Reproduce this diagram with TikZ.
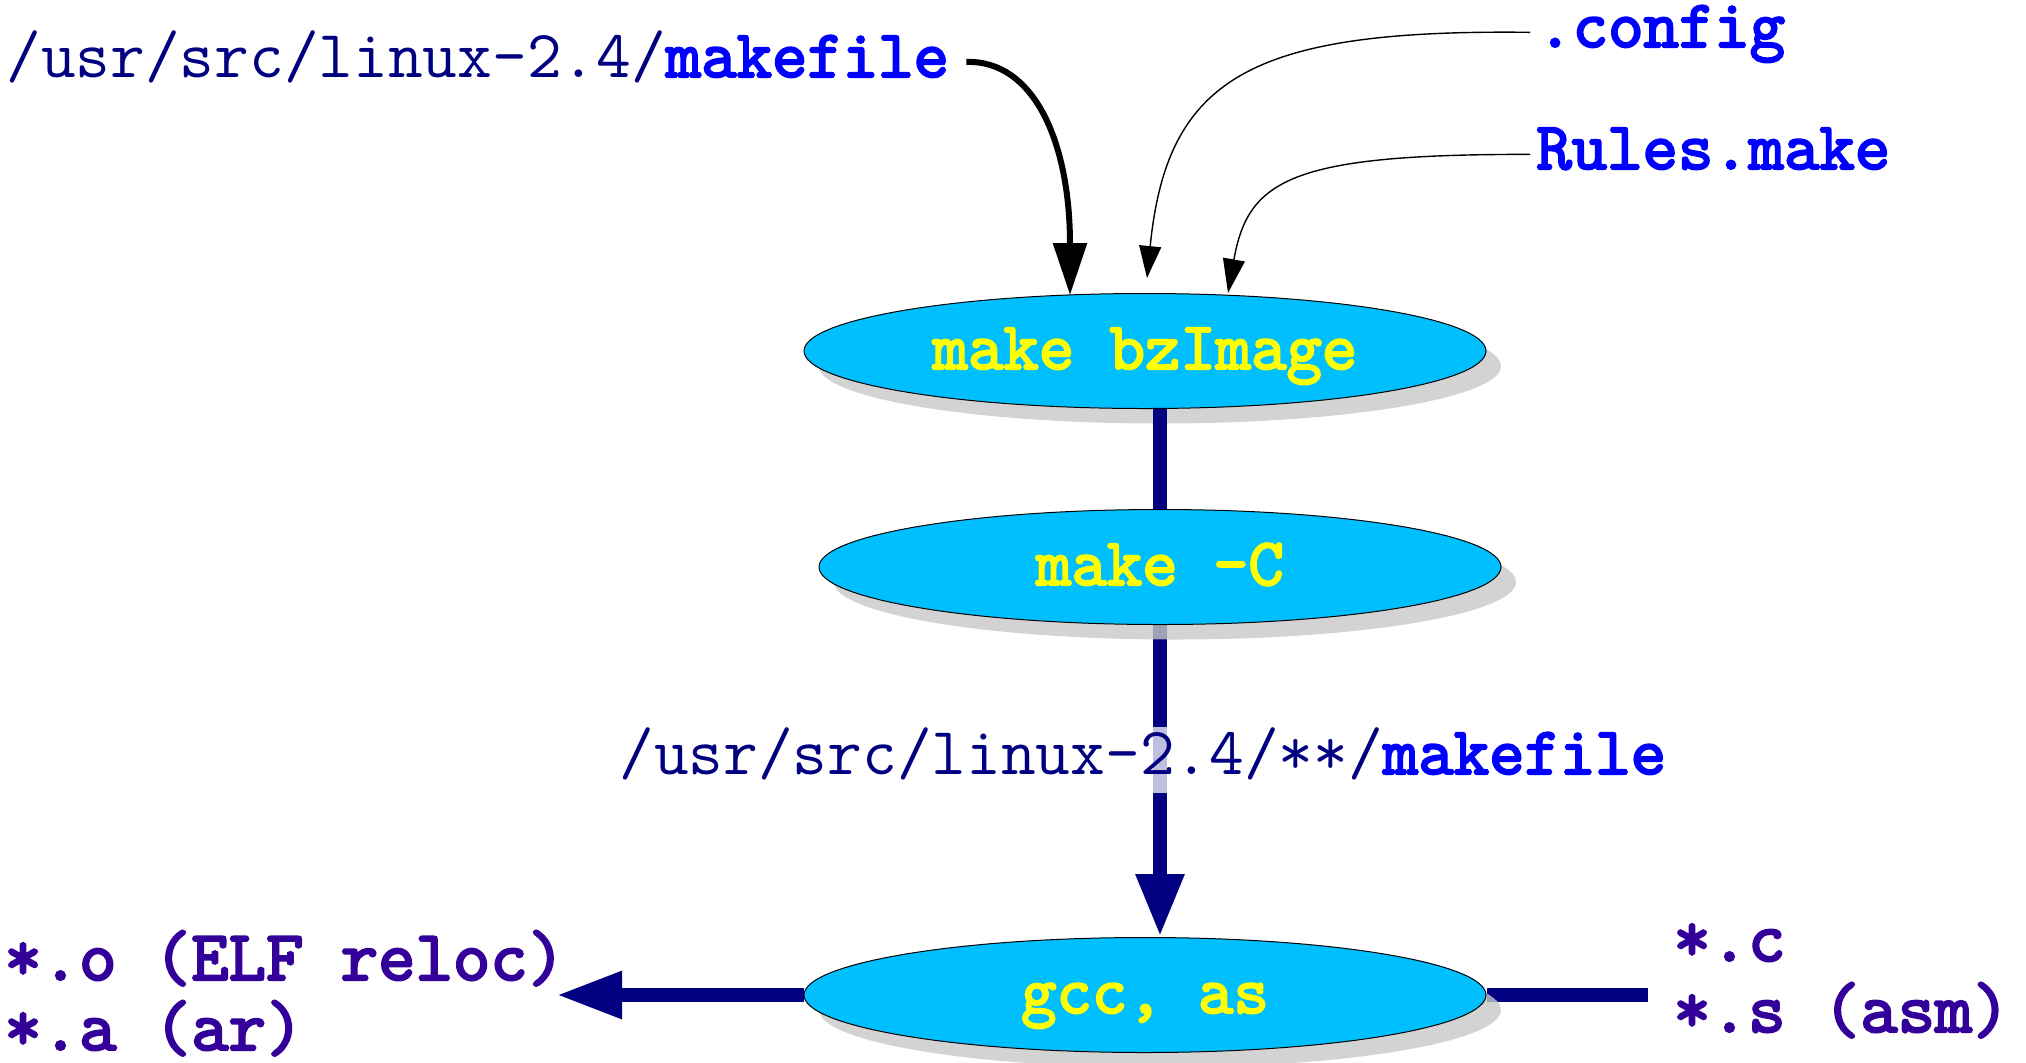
\documentclass[tikz,border=0pt]{standalone}
\usepackage{fontspec}
\newfontfamily\heavymono{lmmono10-regular.otf}[FakeBold=3]
\usetikzlibrary{arrows.meta,shapes.geometric,shadows}
\definecolor{skyfill}{RGB}{0,191,255}
\definecolor{pathnavy}{RGB}{0,0,128}
\definecolor{fileblue}{RGB}{0,0,255}
\definecolor{listindigo}{RGB}{51,0,153}
\definecolor{shadowgray}{RGB}{200,200,200}
\definecolor{cmdyellow}{RGB}{255,255,0}
\pgfdeclarelayer{bg}
\pgfsetlayers{bg,main}
\newcommand\monosize{\fontsize{33.7}{40}\selectfont}
\newcommand\listsize{\fontsize{35.6}{42}\selectfont}
\begin{document}
\begin{tikzpicture}[x=0.5pt,y=-0.5pt,
  txt/.style={inner sep=0pt, anchor=base west,
    font=\ttfamily\monosize, text height=22pt, text depth=7.4pt},
  fname/.style={txt, text=fileblue, font=\heavymono\monosize},
  listtxt/.style={inner sep=0pt, anchor=base west, text=listindigo,
    font=\heavymono\listsize},
  cmd/.style={ellipse, draw=black, line width=0.5pt, fill=skyfill,
    minimum width=341pt, minimum height=57.5pt, inner sep=0pt,
    font=\heavymono\monosize, text=cmdyellow,
    text height=18pt, text depth=0pt,
    drop shadow={shadow xshift=7.5pt, shadow yshift=-7.5pt, fill=shadowgray, opacity=0.8}},
  flow/.style={draw=pathnavy, line width=7.25pt},
  feed/.style={draw=black, line width=0.7pt}]

\useasboundingbox (0,0) rectangle (2026,1062);
\begin{pgfonlayer}{bg}
  \fill[white] (0,0) rectangle (2026,1062);
\end{pgfonlayer}

% make steps
\node[cmd] (bz)  at (1145,351) {make bzImage};
\node[cmd] (mc)  at (1160,567) {make -C};
\node[cmd] (gcc) at (1145,995) {gcc, as};

% inputs of the top-level make
\node[txt, text=pathnavy] (mk) at (6,77) {/usr/src/linux-2.4/\textcolor{fileblue}{\heavymono makefile}};
\node[fname, text height=18pt, text depth=3.4pt] (cfg) at (1537,47) {.config};
\node[fname] (rules) at (1536,169) {Rules.make};

% object files and sources
\node[listtxt] (objO) at (4,980)  {*.o (ELF reloc)};
\node[listtxt] (objA) at (4,1050) {*.a (ar)};
\node[listtxt] (srcC) at (1673,961) {*.c};
\node[listtxt] (srcS) at (1673,1032) {*.s (asm)};

\coordinate (mkEnd) at (1070,295);
\coordinate (cfgEnd) at (1147,278);
\coordinate (rulesEnd) at (1228,293);
\coordinate (outTip) at (556,995);
\coordinate (srcEnd) at (1648,995);

% thick flow connectors behind the ellipses
\begin{pgfonlayer}{bg}
  \draw[flow, -{Triangle[length=31.5pt,width=22.5pt]}] (mc.south) -- (mc.south |- gcc.north);
  \draw[flow, -{Triangle[length=33pt,width=22pt]}] (gcc.west) -- (outTip);
  \draw[flow] (gcc.east) -- (srcEnd);
\end{pgfonlayer}
\draw[flow] (bz.south -| mc.north) -- (mc.north);

% sub-makefile label over the connector
\node[txt, text=pathnavy, fill=white, fill opacity=0.75, text opacity=1,
  text height=20pt, text depth=6pt, inner ysep=3.5pt] (sub) at (619,774)
  {/usr/src/linux-2.4/**/\textcolor{fileblue}{\heavymono makefile}};

% configuration feeds
\draw[line width=3pt, -{Triangle[length=26pt,width=16.5pt]}, shorten <=8.5pt]
  (mk.east) .. controls (1034,60) and (1070,142) .. (mkEnd);
\draw[feed, -{Triangle[length=16pt,width=11pt]}, shorten <=3.5pt]
  (cfg.west) .. controls (1250,29) and (1167,78) .. (cfgEnd);
\draw[feed, -{Triangle[length=17pt,width=11pt]}, shorten <=3pt]
  (rules.west) .. controls (1290,154) and (1248,180) .. (rulesEnd);
\end{tikzpicture}
\end{document}
